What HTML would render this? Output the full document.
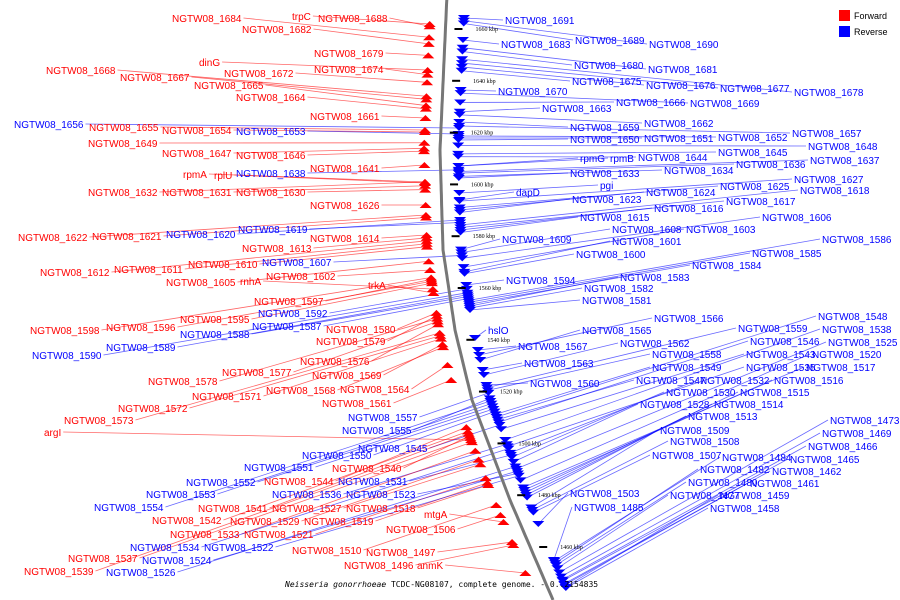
<!DOCTYPE html>
<html><head><meta charset="utf-8"><style>
html,body{margin:0;padding:0;background:#fff;width:900px;height:600px;overflow:hidden}
svg text{font-family:"Liberation Sans",sans-serif}
</style></head><body>
<svg id="chart" width="900" height="600" viewBox="0 0 900 600" xmlns="http://www.w3.org/2000/svg">
<g id="lines"></g>
<path id="backbone" d="" fill="none" stroke="#777" stroke-width="3"/>
<g id="marks"></g>
<g id="ticks"></g>
<g id="labels"></g>
<g>
<rect x="839" y="10" width="11" height="11" fill="#f00"/>
<text x="854" y="19" font-size="9" fill="#000">Forward</text>
<rect x="839" y="26" width="11" height="11" fill="#00f"/>
<text x="854" y="35" font-size="9" fill="#000">Reverse</text>
</g>
<text x="285" y="587" font-size="8" style="font-family:'DejaVu Sans Mono','Liberation Mono',monospace" fill="#000"><tspan font-style="italic">Neisseria gonorrhoeae</tspan> TCDC-NG08107, complete genome. - 0..2154835</text>
</svg>
<script>
// tick values (kbp)
const tickKbp = [1660,1640,1620,1600,1580,1560,1540,1520,1500,1480,1460];
// left-side labels: [text, strand(F/R), x, y]
const leftLabels = [
["NGTW08_1684","F",172,18],["trpC","F",292,16],["NGTW08_1688","F",318,18],["NGTW08_1682","F",242,29],
["NGTW08_1679","F",314,53],["dinG","F",199,62],["NGTW08_1668","F",46,70],["NGTW08_1667","F",120,77],
["NGTW08_1672","F",224,73],["NGTW08_1674","F",314,69],["NGTW08_1665","F",194,85],["NGTW08_1664","F",236,97],
["NGTW08_1661","F",310,116],["NGTW08_1656","R",14,124],["NGTW08_1655","F",89,127],["NGTW08_1654","F",162,130],
["NGTW08_1653","R",236,131],["NGTW08_1649","F",88,143],["NGTW08_1647","F",162,153],["NGTW08_1646","F",236,155],
["NGTW08_1641","F",310,168],["rpmA","F",183,174],["rplU","F",214,175],["NGTW08_1638","R",236,173],
["NGTW08_1632","F",88,192],["NGTW08_1631","F",162,192],["NGTW08_1630","F",236,192],["NGTW08_1626","F",310,205],
["NGTW08_1619","R",238,229],["NGTW08_1614","F",310,238],["NGTW08_1622","F",18,237],["NGTW08_1621","F",92,236],
["NGTW08_1620","R",166,234],["NGTW08_1613","F",242,248],["NGTW08_1607","R",262,262],["NGTW08_1610","F",188,264],
["NGTW08_1611","F",114,269],["NGTW08_1612","F",40,272],["NGTW08_1605","F",166,282],["rnhA","F",240,281],
["NGTW08_1602","F",266,276],["trkA","F",368,285],["NGTW08_1597","F",254,301],["NGTW08_1595","F",180,319],
["NGTW08_1592","R",258,313],["NGTW08_1587","R",252,326],["NGTW08_1596","F",106,327],["NGTW08_1598","F",30,330],
["NGTW08_1588","R",180,334],["NGTW08_1580","F",326,329],["NGTW08_1579","F",316,341],["NGTW08_1589","R",106,347],
["NGTW08_1590","R",32,355],["NGTW08_1576","F",300,361],["NGTW08_1577","F",222,372],["NGTW08_1569","F",312,375],
["NGTW08_1578","F",148,381],["NGTW08_1568","F",266,390],["NGTW08_1564","F",340,389],["NGTW08_1571","F",192,396],
["NGTW08_1561","F",322,403],["NGTW08_1572","F",118,408],["NGTW08_1557","R",348,417],["NGTW08_1573","F",64,420],
["NGTW08_1555","R",342,430],["argI","F",44,432],["NGTW08_1545","R",358,448],["NGTW08_1550","R",302,455],
["NGTW08_1551","R",244,467],["NGTW08_1540","F",332,468],["NGTW08_1544","F",264,481],["NGTW08_1531","R",338,481],
["NGTW08_1552","R",186,482],["NGTW08_1553","R",146,494],["NGTW08_1536","R",272,494],["NGTW08_1523","R",346,494],
["NGTW08_1554","R",94,507],["NGTW08_1541","F",198,508],["NGTW08_1527","F",272,508],["NGTW08_1518","F",346,508],
["mtgA","F",424,514],["NGTW08_1542","F",152,520],["NGTW08_1529","F",230,521],["NGTW08_1519","F",304,521],
["NGTW08_1506","F",386,529],["NGTW08_1533","F",170,534],["NGTW08_1521","F",244,534],["NGTW08_1534","R",130,547],
["NGTW08_1522","R",204,547],["NGTW08_1510","F",292,550],["NGTW08_1497","F",366,552],["NGTW08_1537","F",68,558],
["NGTW08_1524","R",142,560],["NGTW08_1496","F",344,565],["anmK","F",417,565],["NGTW08_1539","F",24,571],
["NGTW08_1526","R",106,572]];
// right-side labels: [text, strand, x, y]
const rightLabels = [
["NGTW08_1691","R",505,20],["NGTW08_1683","R",501,44],["NGTW08_1689","R",575,40],["NGTW08_1690","R",649,44],
["NGTW08_1680","R",574,65],["NGTW08_1681","R",648,69],["NGTW08_1675","R",572,81],["NGTW08_1676","R",646,85],
["NGTW08_1677","R",720,88],["NGTW08_1678","R",794,92],["NGTW08_1670","R",498,91],["NGTW08_1666","R",616,102],
["NGTW08_1669","R",690,103],["NGTW08_1663","R",542,108],["NGTW08_1662","R",644,123],["NGTW08_1659","R",570,127],
["NGTW08_1650","R",570,139],["NGTW08_1651","R",644,138],["NGTW08_1652","R",718,137],["NGTW08_1657","R",792,133],
["NGTW08_1645","R",718,152],["NGTW08_1648","R",808,146],["rpmG","R",580,158],["rpmB","R",610,158],
["NGTW08_1644","R",638,157],["NGTW08_1637","R",810,160],["NGTW08_1636","R",736,164],["NGTW08_1634","R",664,170],
["NGTW08_1633","R",570,173],["NGTW08_1627","R",794,179],["NGTW08_1625","R",720,186],["NGTW08_1618","R",800,190],
["pgi","R",600,185],["dapD","R",516,192],["NGTW08_1624","R",646,192],["NGTW08_1623","R",572,199],
["NGTW08_1617","R",726,201],["NGTW08_1616","R",654,208],["NGTW08_1615","R",580,217],["NGTW08_1606","R",762,217],
["NGTW08_1608","R",612,229],["NGTW08_1603","R",686,229],["NGTW08_1609","R",502,239],["NGTW08_1601","R",612,241],
["NGTW08_1586","R",822,239],["NGTW08_1585","R",752,253],["NGTW08_1600","R",576,254],["NGTW08_1584","R",692,265],
["NGTW08_1583","R",620,277],["NGTW08_1594","R",506,280],["NGTW08_1582","R",584,288],["NGTW08_1581","R",582,300],
["NGTW08_1566","R",654,318],["NGTW08_1548","R",818,316],["NGTW08_1559","R",738,328],["NGTW08_1538","R",822,329],
["hslO","R",488,330],["NGTW08_1565","R",582,330],["NGTW08_1546","R",750,341],["NGTW08_1525","R",828,342],
["NGTW08_1562","R",620,343],["NGTW08_1567","R",518,346],["NGTW08_1543","R",746,354],["NGTW08_1520","R",812,354],
["NGTW08_1558","R",652,354],["NGTW08_1563","R",524,363],["NGTW08_1549","R",652,367],["NGTW08_1535","R",746,367],
["NGTW08_1517","R",806,367],["NGTW08_1547","R",636,380],["NGTW08_1532","R",700,380],["NGTW08_1516","R",774,380],
["NGTW08_1560","R",530,383],["NGTW08_1530","R",666,392],["NGTW08_1515","R",740,392],["NGTW08_1528","R",640,404],
["NGTW08_1514","R",714,404],["NGTW08_1513","R",688,416],["NGTW08_1473","R",830,420],["NGTW08_1509","R",660,430],
["NGTW08_1469","R",822,433],["NGTW08_1508","R",670,441],["NGTW08_1466","R",808,446],["NGTW08_1507","R",652,455],
["NGTW08_1484","R",722,457],["NGTW08_1465","R",790,459],["NGTW08_1482","R",700,469],["NGTW08_1462","R",772,471],
["NGTW08_1480","R",688,482],["NGTW08_1461","R",750,483],["NGTW08_1503","R",570,493],["NGTW08_1477","R",670,495],
["NGTW08_1459","R",720,495],["NGTW08_1485","R",574,507],["NGTW08_1458","R",710,508]];
// gene number -> approximate map position (y) table
const geneNums = [1691,1683,1670,1661,1650,1641,1633,1626,1614,1602,1594,1581,1567,1560,1545,1531,1518,1506,1496,1485,1458];
const genePosY = [18,40,90,118,140,165,178,205,235,270,285,310,350,385,425,455,485,515,545,560,588];

const NS="http://www.w3.org/2000/svg";
const bbPts=[[447,-5],[440,150],[443,250],[455,330],[472,400],[510,500],[553,600]];
function bbX(y){for(let i=0;i<bbPts.length-1;i++){const a=bbPts[i],b=bbPts[i+1];if(y<=b[1]){const t=(y-a[1])/(b[1]-a[1]);return a[0]+t*(b[0]-a[0]);}}return 553;}
function kbpY(k){return 29+(1660-k)*2.59;}
function geneY(n){for(let i=0;i<geneNums.length-1;i++){if(n<=geneNums[i]&&n>=geneNums[i+1]){const t=(geneNums[i]-n)/(geneNums[i]-geneNums[i+1]);return genePosY[i]+t*(genePosY[i+1]-genePosY[i]);}}return n>1691?15:590;}
let d="M447,-5";for(let y=0;y<=600;y+=5)d+=" L"+bbX(y).toFixed(1)+","+y;
document.getElementById('backbone').setAttribute('d',d);
const gL=document.getElementById('lines'),gM=document.getElementById('marks'),gT=document.getElementById('labels'),gK=document.getElementById('ticks');
function mk(tag,at,par){const e=document.createElementNS(NS,tag);for(const k in at)e.setAttribute(k,at[k]);par.appendChild(e);return e;}
function drawLabel(l,side){
  const [txt,st,x,y]=l;const col=st==="F"?"#f00":"#00f";
  const m=txt.match(/_(\d+)$/);const num=m?+m[1]:null;
  let ay=num?geneY(num):(y+8);
  const arrX=st==="F"?bbX(ay)-16:bbX(ay)+18;
  const t=mk('text',{x:x,y:y+4,'font-size':10,fill:col},gT);t.textContent=txt;
  
  
  const tw=t.getComputedTextLength();
  const lx=side==="L"?x+tw+2:x-2;
  const ln=mk('line',{x1:lx,y1:y,x2:arrX,y2:ay,stroke:col,'stroke-width':0.8,'stroke-opacity':0.6},gL);
  
  
  const w=12,h=6,cx=arrX;
  const pts=st==="F"?`${cx-w/2},${ay+h/2} ${cx+w/2},${ay+h/2} ${cx},${ay-h/2}`:`${cx-w/2},${ay-h/2} ${cx+w/2},${ay-h/2} ${cx},${ay+h/2}`;
  const p=mk('polygon',{points:pts,fill:col},gM);
  
  
}
leftLabels.forEach(l=>drawLabel(l,"L"));
rightLabels.forEach(l=>drawLabel(l,"R"));
tickKbp.forEach(k=>{
  const y=kbpY(k),x=bbX(y);
  const tl=mk('line',{x1:x+9,y1:y,x2:x+17,y2:y,stroke:'#000','stroke-width':2},gK);
  
  
  const tt=mk('text',{x:x+30,y:y+2,'font-size':6,fill:'#000',style:"font-family:'Liberation Serif',serif"},gK);tt.textContent=k+" kbp";
  
  
});
</script>
</body></html>
